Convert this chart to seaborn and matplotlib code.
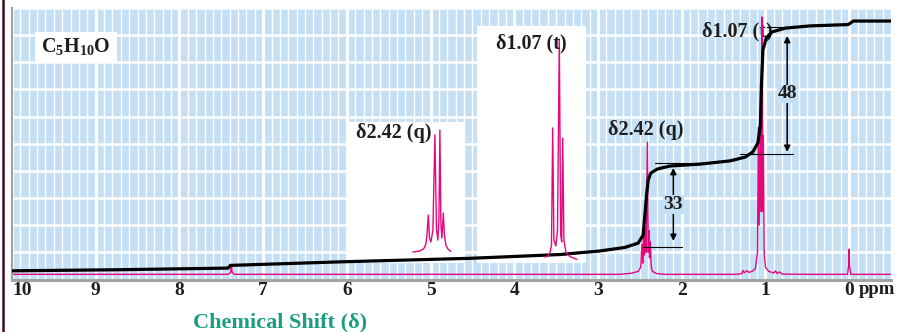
import matplotlib
matplotlib.use("Agg")
import matplotlib.pyplot as plt
import seaborn as sns
from matplotlib.patches import Rectangle
from matplotlib.lines import Line2D
from matplotlib.ticker import MultipleLocator

# ---- data (ppm, relative height, 0-10 grid rows) ----
integral_ppm = [10.00, 8.71, 7.42, 7.39, 7.28, 6.08, 4.53, 3.45, 2.98, 2.68, 2.52, 2.46,
                2.44, 2.42, 2.40, 2.37, 2.29, 2.14, 1.78, 1.42, 1.24, 1.15, 1.09, 1.06,
                1.05, 1.03, 0.99, 0.92, 0.76, 0.47, 0.01, -0.05, -0.50]
integral_val = [0.32, 0.36, 0.42, 0.52, 0.53, 0.65, 0.78, 0.92, 1.05, 1.18, 1.34, 1.64,
                2.38, 3.11, 3.67, 3.92, 4.07, 4.18, 4.25, 4.37, 4.51, 4.70, 5.03, 5.69,
                6.98, 8.45, 8.90, 9.12, 9.26, 9.34, 9.39, 9.52, 9.52]

spectrum_ppm = [10.0, 7.42, 7.39, 7.38, 7.37, 7.34, 2.75, 2.60, 2.52, 2.49, 2.475, 2.465,
                2.455, 2.445, 2.435, 2.425, 2.41, 2.40, 2.39, 2.385, 2.375, 2.365, 2.35,
                2.30, 2.20, 1.35, 1.28, 1.27, 1.25, 1.22, 1.20, 1.16, 1.12, 1.095, 1.085,
                1.075, 1.06, 1.05, 1.043, 1.035, 1.025, 1.015, 1.00, 0.96, 0.90, 0.88,
                0.86, 0.83, 0.80, 0.50, 0.02, 0.005, 0.0, -0.005, -0.02, -0.50]
spectrum_val = [0.19, 0.19, 0.25, 0.55, 0.25, 0.19, 0.19, 0.23, 0.30, 0.45, 1.30, 0.60,
                1.75, 0.90, 1.90, 1.00, 5.06, 1.00, 1.80, 0.80, 1.40, 0.50, 0.30,
                0.22, 0.19, 0.19, 0.22, 0.33, 0.25, 0.33, 0.26, 0.30, 0.40, 1.00, 5.60,
                2.00, 5.90, 2.50, 9.67, 2.50, 5.30, 1.00, 0.45, 0.30, 0.24, 0.32,
                0.22, 0.28, 0.20, 0.19, 0.19, 0.50, 1.12, 0.50, 0.19, 0.19]

# expanded views (ppm, fraction of inset height)
quartet_ppm = [2.538, 2.503, 2.483, 2.473, 2.468, 2.461, 2.455, 2.448, 2.438, 2.428,
               2.420, 2.413, 2.408, 2.403, 2.398, 2.393, 2.386, 2.380, 2.373, 2.363, 2.348]
quartet_val = [0.078, 0.085, 0.103, 0.135, 0.191, 0.340, 0.177, 0.149, 0.234, 0.908,
               0.234, 0.163, 0.305, 0.943, 0.270, 0.177, 0.355, 0.191, 0.128, 0.099, 0.082]

triplet_ppm = [1.142, 1.127, 1.117, 1.109, 1.103, 1.097, 1.087, 1.079, 1.070, 1.063,
               1.058, 1.053, 1.047, 1.037, 1.017, 0.982]
triplet_val = [0.025, 0.030, 0.042, 0.076, 0.570, 0.097, 0.072, 0.139, 0.945, 0.118,
               0.089, 0.527, 0.097, 0.046, 0.027, 0.015]

tick_ppm = [10, 9, 8, 7, 6, 5, 4, 3, 2, 1, 0]
tick_labels = ["10", "9", "8", "7", "6", "5", "4", "3", "2", "1", "0"]

# integration steps: (label, ppm of arrow, lower level, upper level)
step_labels = ["33", "48"]
step_ppm = [2.10, 0.74]
step_low = [1.42, 4.70]
step_high = [4.11, 8.97]

BLUE = "#c5e0f4"
PINK = "#e4087f"
TEAL = "#1a9e82"
INK = "#1e1e1e"

sns.set_theme(style="white")
plt.rcParams["font.family"] = ["Liberation Serif", "DejaVu Serif"]
plt.rcParams["mathtext.fontset"] = "custom"
plt.rcParams["mathtext.rm"] = "Liberation Serif"
plt.rcParams["mathtext.bf"] = "Liberation Serif:bold"

fig = plt.figure(figsize=(8.98, 3.32), dpi=100)
ax = fig.add_axes([12 / 898, 52.5 / 332, 879 / 898, 271.5 / 332])
ax.set_facecolor(BLUE)
ax.set_xlim(10, -0.5)
ax.set_ylim(0, 10)

# grid
ax.set_axisbelow(True)
ax.set_xticks(tick_ppm)
ax.xaxis.set_minor_locator(MultipleLocator(0.1))
ax.set_yticks(range(0, 11))
ax.grid(which="major", axis="x", color="white", lw=2.2)
ax.grid(which="minor", axis="x", color="white", lw=1.0)
ax.grid(which="major", axis="y", color="white", lw=1.8)
ax.tick_params(which="both", left=False, bottom=False, labelleft=False, length=0, pad=2)
ax.set_xticklabels(tick_labels, fontsize=14, fontweight="bold", color=INK)
ax.get_xticklabels()[0].set_horizontalalignment("left")

for side in ["top", "right"]:
    ax.spines[side].set_visible(False)
ax.spines["left"].set_color("#a3a3a3")
ax.spines["left"].set_linewidth(1.6)
ax.spines["bottom"].set_color("#a3a3a3")
ax.spines["bottom"].set_linewidth(2.2)

# white label boxes behind the expanded views
ax.add_patch(Rectangle((0.3811, 0.0608), 0.1342, 0.5193, transform=ax.transAxes,
                       facecolor="white", edgecolor="none", zorder=1))
ax.add_patch(Rectangle((0.5290, 0.0608), 0.1240, 0.8729, transform=ax.transAxes,
                       facecolor="white", edgecolor="none", zorder=1))
ax.add_patch(Rectangle((0.0262, 0.8011), 0.0933, 0.1105, transform=ax.transAxes,
                       facecolor="white", edgecolor="none", zorder=1))
ax.text(0.0728, 0.8564, r"$\mathbf{C_5H_{10}O}$", transform=ax.transAxes,
        ha="center", va="center", fontsize=14.5, color=INK, zorder=3)

# spectrum and integral
sns.lineplot(x=spectrum_ppm, y=spectrum_val, sort=False, estimator=None, ax=ax,
             color=PINK, lw=1.0, zorder=2)
sns.lineplot(x=integral_ppm, y=integral_val, sort=False, estimator=None, ax=ax,
             color="black", lw=2.3, zorder=3)

# integration guide lines
ax.plot([2.46, 2.00], [1.20, 1.20], color="black", lw=0.8, zorder=3)
ax.plot([2.32, 1.78], [4.29, 4.29], color="black", lw=0.8, zorder=3)
ax.plot([1.30, 0.67], [4.62, 4.62], color="black", lw=0.8, zorder=3)
ax.plot([0.98, 0.73], [9.30, 9.30], color="black", lw=0.8, zorder=3)

for lab, xp, lo, hi in zip(step_labels, step_ppm, step_low, step_high):
    ax.annotate("", xy=(xp, hi), xytext=(xp, lo),
                arrowprops=dict(arrowstyle="<|-|>", color="black", lw=1.1,
                                mutation_scale=9, shrinkA=0, shrinkB=0), zorder=3)
    ax.text(xp, (lo + hi) / 2, lab, ha="center", va="center", fontsize=14,
            fontweight="bold", color=INK, zorder=4,
            bbox=dict(facecolor=BLUE, edgecolor="none", pad=0.5))

ax.text(2.43, 5.51, "δ2.42 (q)", ha="center", va="center", fontsize=14.5,
        fontweight="bold", color=INK, zorder=4)
ax.text(1.34, 9.12, "δ1.07 (t)", ha="center", va="center", fontsize=14.5,
        fontweight="bold", color=INK, zorder=1.8)

# expanded multiplets
axq = fig.add_axes([347 / 898, 69 / 332, 118 / 898, 141 / 332])
axq.patch.set_alpha(0)
axq.set_xlim(2.8675, 2.2775)
axq.set_ylim(0, 1)
sns.lineplot(x=quartet_ppm, y=quartet_val, sort=False, estimator=None, ax=axq,
             color=PINK, lw=1.0)
axq.text(0.40, 0.92, "δ2.42 (q)", transform=axq.transAxes, ha="center", va="center",
         fontsize=14.5, fontweight="bold", color=INK)
axq.axis("off")

axt = fig.add_axes([477 / 898, 69 / 332, 109 / 898, 237 / 332])
axt.patch.set_alpha(0)
axt.set_xlim(1.4815, 0.9365)
axt.set_ylim(0, 1)
sns.lineplot(x=triplet_ppm, y=triplet_val, sort=False, estimator=None, ax=axt,
             color=PINK, lw=1.0)
axt.text(0.495, 0.928, "δ1.07 (t)", transform=axt.transAxes, ha="center", va="center",
         fontsize=14.5, fontweight="bold", color=INK)
axt.axis("off")

# axis title and unit
fig.text(280 / 898, 10 / 332, "Chemical Shift (δ)", ha="center", va="center",
         fontsize=16, fontweight="bold", color=TEAL)
fig.text(895 / 898, 42 / 332, "ppm", ha="right", va="center", fontsize=13.5,
         fontweight="bold", color=INK)

# dark frame line on the left edge
fig.add_artist(Line2D([2.8 / 898, 2.8 / 898], [0, 1], transform=fig.transFigure,
                      color="#3b0b2b", lw=1.8))

fig.savefig("out.png", dpi=100)
